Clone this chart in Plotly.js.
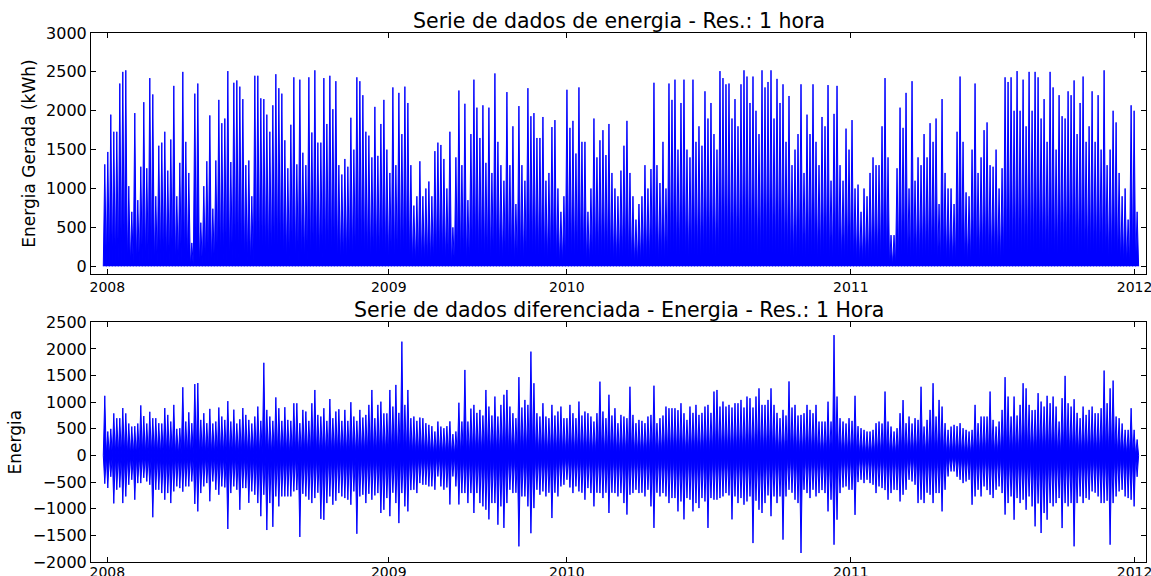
<!DOCTYPE html>
<html>
<head>
<meta charset="utf-8">
<script src="https://cdn.plot.ly/plotly-3.0.1.min.js"></script>
<style>html,body{margin:0;padding:0;background:#fff}#chart{width:1151px;height:576px}</style>
</head>
<body>
<div id="chart"></div>
<script>
// Time base: hourly sample index (0 = first hour of 2008); values read per block of 93 samples
const blockStartHour = -124;
const blockHours = 93;
const yearTickHours = [0, 8723, 14241, 23045, 31837];
const yearTickLabels = ['2008', '2009', '2010', '2011', '2012'];

// Top: generated energy, highest hourly value in each block (night values drop to 0)
const nightMinimum = 0;
const energyPeakPerBlock = [
 1310,1470,1950,1730,1730,2350,2500,2520,1030,700,
 1970,850,1280,2110,1260,2420,2210,900,1550,1590,
 1730,1230,1630,2320,900,1330,2500,1600,1200,300,
 2220,2350,560,1030,1350,1940,740,1360,2140,1840,
 1900,2510,1340,2360,2390,2310,2150,1300,1360,900,
 2450,2450,2160,2150,1950,1730,2070,2470,2290,2220,
 1620,1260,1820,2430,1310,2400,1460,1300,2430,1720,
 2520,1590,1590,2420,1830,2450,2020,2380,1300,1180,
 1380,1280,1910,1500,2430,2380,2200,1730,1680,1400,
 2050,1420,1830,2140,1500,1200,2300,1300,2230,1700,
 2310,2100,1300,780,900,1350,900,1000,1090,900,
 1480,1590,1560,1380,1000,1730,500,1400,2260,1300,
 2090,850,1700,2400,2040,1650,2070,1330,2040,1200,
 2480,1600,1300,1100,2240,1300,1800,800,2060,1300,
 1100,2290,1930,1970,1650,1650,1920,1100,1200,1790,
 1880,1000,700,900,2270,1780,1870,1450,2300,1600,
 1600,700,1000,1900,1400,1620,1750,1430,1830,1200,
 1000,900,1230,1550,1870,1200,900,600,800,900,
 1300,1000,1250,2360,1300,1070,1600,1000,2350,2140,
 2400,1500,2100,2400,1500,1400,2400,1600,1800,1550,
 2250,1900,2100,1700,1500,2510,2420,2340,2350,1900,
 2150,1800,2340,2520,2440,2100,2440,2000,1700,2520,
 2300,2370,2520,1900,2410,2100,2340,1600,2190,1300,
 1500,1700,2340,1200,1950,1700,2340,1600,1300,1920,
 1800,2330,1100,1960,2320,1300,1100,1770,1500,1880,
 1000,1050,700,1000,900,1200,1400,1300,1300,1800,
 2420,1400,400,400,1260,2040,1780,2230,1000,2380,
 1100,1400,1300,1700,1400,1840,1600,1900,800,2150,
 1200,1000,1000,800,1730,2440,1600,950,900,1500,
 2350,1200,1400,1750,1850,1300,1280,1500,1000,1260,
 2430,2370,2430,2000,2510,2000,2400,1800,2500,2000,
 2500,2430,1900,2150,1600,2500,2300,1500,2200,1930,
 1900,2250,2200,2390,1700,2100,2440,1600,1800,2250,
 1600,2200,1500,2520,1300,1500,2000,1850,1200,900,
 1000,600,2070,2000,700
];

// Bottom: differenced series, highest and lowest value in each block
const diffMaxPerBlock = [
 1120,450,500,790,700,700,890,790,600,543,
 550,600,940,740,600,820,700,700,606,600,
 890,762,637,950,500,512,1280,637,810,606,
 1340,1360,668,793,606,875,600,637,900,731,
 668,1020,637,860,600,680,890,762,668,600,
 731,918,650,1740,856,731,650,1090,887,650,
 906,668,650,980,980,606,856,825,650,980,
 1230,762,731,887,650,1060,700,825,868,650,
 856,650,1000,731,650,856,712,762,950,1230,
 700,950,1010,
 790,790,1230,918,1325,800,2137,
 950,1230,700,731,650,712,700,606,575,550,
 450,637,543,512,550,640,400,450,990,637,
 1606,637,880,950,800,856,750,1230,918,750,
 1106,731,950,1140,1230,918,793,700,1470,900,
 1043,950,1950,1356,793,731,981,731,700,950,
 750,825,918,700,700,950,793,700,1012,750,
 825,793,731,637,793,1386,825,700,1140,750,
 887,606,762,731,700,1290,762,606,668,650,
 606,731,762,1310,606,700,750,918,887,887,
 887,850,981,793,668,918,800,950,762,800,
 918,950,800,1200,1230,918,1012,918,950,900,
 981,981,1043,900,1106,1075,900,1106,1260,
 950,950,1043,1260,950,800,700,856,750,1390,900,
 950,750,762,793,950,856,793,950,637,637,
 637,1010,637,2260,1106,700,637,600,700,650,
 1120,550,512,481,450,450,481,606,637,600,
 1200,637,543,450,512,793,1040,606,731,600,
 700,668,1290,543,668,856,1356,731,1043,918,
 606,481,543,575,550,606,512,481,450,481,
 950,606,731,731,731,1200,668,543,637,856,
 1470,1106,731,1106,750,950,1356,1260,950,850,
 856,1170,1012,918,1120,981,1106,918,637,1075,
 1494,981,918,1056,800,700,918,762,856,918,
 793,793,887,1594,981,1260,1406,731,700,600,
 481,481,887,481,300
];
const diffMinPerBlock = [
 -530,-610,-400,-900,-644,-600,-894,-769,-550,-456,
 -831,-519,-519,-420,-488,-550,-1160,-644,-644,-706,
 -831,-706,-894,-675,-581,-613,-680,-581,-581,-488,
 -910,-1050,-706,-581,-519,-860,-488,-644,-738,-581,
 -600,-1380,-706,-581,-644,-1020,-613,-613,-890,-675,
 -738,-894,-1140,-738,-1400,-894,-1340,-769,-956,-769,
 -769,-769,-769,-675,-650,-1530,-720,-769,-831,-894,
 -800,-700,-1190,-1210,-894,-769,-925,-850,-706,-769,
 -800,-831,-925,-675,-1470,-769,-738,-894,-720,-831,
 -750,-706,-1080,
 -1020,-800,-1140,-700,-894,-1270,-706,
 -956,-1050,-650,-644,-706,-519,-550,-550,-581,-580,
 -644,-394,-581,-644,-600,-920,-394,-581,-920,-706,
 -706,-894,-706,-1080,-706,-894,-956,-1019,-1200,-894,
 -894,-1300,-956,-1360,-894,-644,-706,-700,-1707,-769,
 -769,-956,-1460,-988,-644,-738,-675,-769,-700,-1175,
 -700,-769,-581,-550,-456,-600,-706,-581,-675,-700,
 -831,-613,-706,-956,-700,-706,-800,-700,-1080,-700,
 -706,-769,-706,-894,-1110,-738,-706,-644,-706,-700,
 -769,-644,-956,-1360,-700,-769,-706,-769,-894,-800,
 -800,-1050,-863,-1200,-800,-831,-1050,-894,-988,-800,
 -863,-1360,-800,-831,-831,-800,-769,-706,-750,-1200,
 -769,-894,-800,-925,-863,-769,-1645,-850,-1019,
 -1080,-894,-750,-1140,-769,-894,-769,-1580,-769,-644,-700,
 -831,-894,-1831,-644,-706,-800,-644,-769,-706,-650,
 -706,-1050,-831,-1675,-1206,-706,-600,-581,-644,-644,
 -1115,-500,-456,-519,-456,-519,-550,-706,-581,-613,
 -650,-831,-706,-644,-650,-863,-738,-644,-456,-488,
 -550,-894,-831,-894,-700,-738,-894,-706,-706,-1050,
 -644,-394,-300,-300,-400,-456,-519,-488,-456,-925,
 -769,-644,-769,-581,-650,-738,-800,-644,-581,-706,
 -1110,-894,-769,-1206,-800,-894,-831,-1019,-769,-956,
 -1331,-900,-1456,-1081,-1206,-894,-956,-894,-800,-1363,
 -894,-956,-894,-1706,-894,-769,-894,-800,-831,-675,
 -700,-769,-894,-894,-850,-1675,-894,-769,-675,-644,
 -769,-800,-831,-956,-400
];

// Each block spans its [low, high] range; draw it as a spike from the base level to the extreme
function spikePath(extremes, base) {
  const x = [], y = [];
  for (let k = 0; k < extremes.length; k++) {
    const t = blockStartHour + k * blockHours;
    x.push(t); y.push(base);
    x.push(t + blockHours / 2); y.push(extremes[k]);
  }
  x.push(blockStartHour + extremes.length * blockHours); y.push(base);
  return { x, y };
}
const topPath = spikePath(energyPeakPerBlock, nightMinimum);
const diffCenter = 0;
const botUpper = spikePath(diffMaxPerBlock, diffCenter);
const botLower = spikePath(diffMinPerBlock, diffCenter);

const blue = '#0000ff';
const lineStyle = { color: blue, width: 1 };
const traces = [
  { type: 'scatter', mode: 'lines', x: topPath.x, y: topPath.y, xaxis: 'x', yaxis: 'y',
    line: lineStyle, fill: 'tozeroy', fillcolor: blue, hoverinfo: 'skip' },
  { type: 'scatter', mode: 'lines', x: botUpper.x, y: botUpper.y, xaxis: 'x2', yaxis: 'y2',
    line: lineStyle, hoverinfo: 'skip' },
  { type: 'scatter', mode: 'lines', x: botLower.x, y: botLower.y, xaxis: 'x2', yaxis: 'y2',
    line: lineStyle, fill: 'tonexty', fillcolor: blue, hoverinfo: 'skip' }
];

const font = 'DejaVu Sans, Arial, sans-serif';
const axisBase = {
  showline: true, linecolor: '#000', linewidth: 1, mirror: 'ticks',
  ticks: 'inside', ticklen: 5, tickwidth: 1, tickcolor: '#000',
  showgrid: false, zeroline: false, fixedrange: true
};
const xBase = Object.assign({}, axisBase, {
  range: [-505, 32190], tickmode: 'array', tickvals: yearTickHours, ticktext: yearTickLabels,
  ticklabeloverflow: 'allow',
  tickfont: { family: font, size: 14, color: '#000' }
});

const layout = {
  width: 1151, height: 576,
  margin: { l: 91, r: 5, t: 33, b: 14 },
  paper_bgcolor: '#fff', plot_bgcolor: '#fff',
  showlegend: false,
  font: { family: font, color: '#000' },
  xaxis: Object.assign({}, xBase, { domain: [0, 1], anchor: 'y' }),
  yaxis: Object.assign({}, axisBase, {
    domain: [0.5444, 1], anchor: 'x', range: [-100, 3000], tick0: 0, dtick: 500,
    ticklabeloverflow: 'allow',
    tickfont: { family: font, size: 16, color: '#000' },
    title: { text: 'Energia Gerada (kWh)', font: { family: font, size: 17, color: '#000' }, standoff: 6 }
  }),
  xaxis2: Object.assign({}, xBase, { domain: [0, 1], anchor: 'y2', ticklabelstandoff: -3 }),
  yaxis2: Object.assign({}, axisBase, {
    domain: [0, 0.4531], anchor: 'x2', range: [-2000, 2500], tick0: 0, dtick: 500,
    ticklabeloverflow: 'allow',
    tickfont: { family: font, size: 16, color: '#000' },
    title: { text: 'Energia', font: { family: font, size: 17, color: '#000' }, standoff: 6 }
  }),
  annotations: [
    { text: 'Serie de dados de energia - Res.: 1 hora', xref: 'paper', yref: 'paper', x: 0.5, y: 1,
      xanchor: 'center', yanchor: 'bottom', yshift: -2, showarrow: false,
      font: { family: font, size: 20.5, color: '#000' } },
    { text: 'Serie de dados diferenciada - Energia - Res.: 1 Hora', xref: 'paper', yref: 'paper', x: 0.5, y: 0.4531,
      xanchor: 'center', yanchor: 'bottom', yshift: -2, showarrow: false,
      font: { family: font, size: 20.5, color: '#000' } }
  ]
};

Plotly.newPlot('chart', traces, layout, { displayModeBar: false, staticPlot: true });
</script>
</body>
</html>
